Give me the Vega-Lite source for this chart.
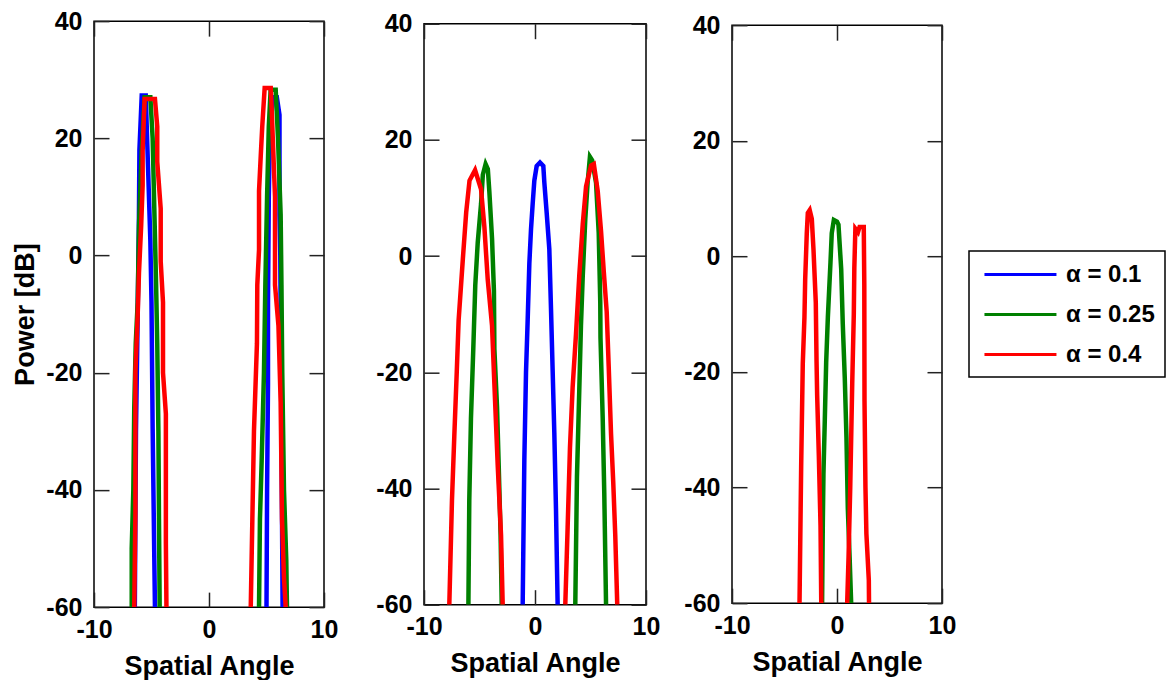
{
"$schema": "https://vega.github.io/schema/vega-lite/v6.json",
"padding": {"left": 11, "top": 8, "right": 0, "bottom": 0},
"data": {"values": [
{"p":1,"s":"α = 0.1","g":"1b1","i":0,"x":-6.45,"y":-60},{"p":1,"s":"α = 0.1","g":"1b1","i":1,"x":-6.35,"y":-30},{"p":1,"s":"α = 0.1","g":"1b1","i":2,"x":-6.2,"y":-10},{"p":1,"s":"α = 0.1","g":"1b1","i":3,"x":-6.1,"y":5},{"p":1,"s":"α = 0.1","g":"1b1","i":4,"x":-6.05,"y":18},{"p":1,"s":"α = 0.1","g":"1b1","i":5,"x":-5.85,"y":27.3},{"p":1,"s":"α = 0.1","g":"1b1","i":6,"x":-5.5,"y":27.3},{"p":1,"s":"α = 0.1","g":"1b1","i":7,"x":-5.3,"y":15},{"p":1,"s":"α = 0.1","g":"1b1","i":8,"x":-5.1,"y":2.5},{"p":1,"s":"α = 0.1","g":"1b1","i":9,"x":-5.0,"y":-8},{"p":1,"s":"α = 0.1","g":"1b1","i":10,"x":-4.9,"y":-29.5},{"p":1,"s":"α = 0.1","g":"1b1","i":11,"x":-4.75,"y":-52.7},{"p":1,"s":"α = 0.1","g":"1b1","i":12,"x":-4.7,"y":-60},
{"p":1,"s":"α = 0.1","g":"1b2","i":0,"x":5.0,"y":-60},{"p":1,"s":"α = 0.1","g":"1b2","i":1,"x":5.05,"y":-40},{"p":1,"s":"α = 0.1","g":"1b2","i":2,"x":5.13,"y":-22},{"p":1,"s":"α = 0.1","g":"1b2","i":3,"x":5.13,"y":-8},{"p":1,"s":"α = 0.1","g":"1b2","i":4,"x":5.2,"y":10},{"p":1,"s":"α = 0.1","g":"1b2","i":5,"x":5.3,"y":22},{"p":1,"s":"α = 0.1","g":"1b2","i":6,"x":5.6,"y":27},{"p":1,"s":"α = 0.1","g":"1b2","i":7,"x":5.9,"y":27},{"p":1,"s":"α = 0.1","g":"1b2","i":8,"x":6.13,"y":24},{"p":1,"s":"α = 0.1","g":"1b2","i":9,"x":6.13,"y":7},{"p":1,"s":"α = 0.1","g":"1b2","i":10,"x":6.2,"y":0},{"p":1,"s":"α = 0.1","g":"1b2","i":11,"x":6.3,"y":-30},{"p":1,"s":"α = 0.1","g":"1b2","i":12,"x":6.4,"y":-60},
{"p":2,"s":"α = 0.1","g":"2b","i":0,"x":-1.11,"y":-60},{"p":2,"s":"α = 0.1","g":"2b","i":1,"x":-0.96,"y":-35},{"p":2,"s":"α = 0.1","g":"2b","i":2,"x":-0.81,"y":-20},{"p":2,"s":"α = 0.1","g":"2b","i":3,"x":-0.66,"y":-11},{"p":2,"s":"α = 0.1","g":"2b","i":4,"x":-0.51,"y":-1.3},{"p":2,"s":"α = 0.1","g":"2b","i":5,"x":-0.36,"y":4.6},{"p":2,"s":"α = 0.1","g":"2b","i":6,"x":-0.21,"y":9},{"p":2,"s":"α = 0.1","g":"2b","i":7,"x":-0.06,"y":13},{"p":2,"s":"α = 0.1","g":"2b","i":8,"x":0.15,"y":15.5},{"p":2,"s":"α = 0.1","g":"2b","i":9,"x":0.45,"y":16.1},{"p":2,"s":"α = 0.1","g":"2b","i":10,"x":0.75,"y":15.5},{"p":2,"s":"α = 0.1","g":"2b","i":11,"x":0.84,"y":12.7},{"p":2,"s":"α = 0.1","g":"2b","i":12,"x":1.05,"y":7.5},{"p":2,"s":"α = 0.1","g":"2b","i":13,"x":1.29,"y":1.2},{"p":2,"s":"α = 0.1","g":"2b","i":14,"x":1.44,"y":-9},{"p":2,"s":"α = 0.1","g":"2b","i":15,"x":1.59,"y":-19.7},{"p":2,"s":"α = 0.1","g":"2b","i":16,"x":1.74,"y":-30.4},{"p":2,"s":"α = 0.1","g":"2b","i":17,"x":1.89,"y":-43.5},{"p":2,"s":"α = 0.1","g":"2b","i":18,"x":2.04,"y":-60},
{"p":1,"s":"α = 0.25","g":"1g1","i":0,"x":-6.72,"y":-60},{"p":1,"s":"α = 0.25","g":"1g1","i":1,"x":-6.72,"y":-50},{"p":1,"s":"α = 0.25","g":"1g1","i":2,"x":-6.58,"y":-40},{"p":1,"s":"α = 0.25","g":"1g1","i":3,"x":-6.5,"y":-26},{"p":1,"s":"α = 0.25","g":"1g1","i":4,"x":-6.37,"y":-15},{"p":1,"s":"α = 0.25","g":"1g1","i":5,"x":-6.2,"y":-8},{"p":1,"s":"α = 0.25","g":"1g1","i":6,"x":-6.09,"y":5},{"p":1,"s":"α = 0.25","g":"1g1","i":7,"x":-5.85,"y":18},{"p":1,"s":"α = 0.25","g":"1g1","i":8,"x":-5.6,"y":27},{"p":1,"s":"α = 0.25","g":"1g1","i":9,"x":-5.1,"y":27},{"p":1,"s":"α = 0.25","g":"1g1","i":10,"x":-4.9,"y":20},{"p":1,"s":"α = 0.25","g":"1g1","i":11,"x":-4.78,"y":10},{"p":1,"s":"α = 0.25","g":"1g1","i":12,"x":-4.6,"y":-5},{"p":1,"s":"α = 0.25","g":"1g1","i":13,"x":-4.5,"y":-15},{"p":1,"s":"α = 0.25","g":"1g1","i":14,"x":-4.4,"y":-30},{"p":1,"s":"α = 0.25","g":"1g1","i":15,"x":-4.35,"y":-45},{"p":1,"s":"α = 0.25","g":"1g1","i":16,"x":-4.29,"y":-60},
{"p":1,"s":"α = 0.25","g":"1g2","i":0,"x":4.35,"y":-60},{"p":1,"s":"α = 0.25","g":"1g2","i":1,"x":4.43,"y":-45},{"p":1,"s":"α = 0.25","g":"1g2","i":2,"x":4.58,"y":-35},{"p":1,"s":"α = 0.25","g":"1g2","i":3,"x":4.78,"y":-20},{"p":1,"s":"α = 0.25","g":"1g2","i":4,"x":4.9,"y":-5},{"p":1,"s":"α = 0.25","g":"1g2","i":5,"x":5.05,"y":10},{"p":1,"s":"α = 0.25","g":"1g2","i":6,"x":5.2,"y":22},{"p":1,"s":"α = 0.25","g":"1g2","i":7,"x":5.36,"y":28.3},{"p":1,"s":"α = 0.25","g":"1g2","i":8,"x":5.8,"y":28.3},{"p":1,"s":"α = 0.25","g":"1g2","i":9,"x":6.0,"y":20},{"p":1,"s":"α = 0.25","g":"1g2","i":10,"x":6.23,"y":7},{"p":1,"s":"α = 0.25","g":"1g2","i":11,"x":6.3,"y":-5},{"p":1,"s":"α = 0.25","g":"1g2","i":12,"x":6.37,"y":-20},{"p":1,"s":"α = 0.25","g":"1g2","i":13,"x":6.52,"y":-40},{"p":1,"s":"α = 0.25","g":"1g2","i":14,"x":6.72,"y":-52},{"p":1,"s":"α = 0.25","g":"1g2","i":15,"x":6.78,"y":-60},
{"p":2,"s":"α = 0.25","g":"2g1","i":0,"x":-6.0,"y":-60},{"p":2,"s":"α = 0.25","g":"2g1","i":1,"x":-5.92,"y":-42},{"p":2,"s":"α = 0.25","g":"2g1","i":2,"x":-5.77,"y":-28},{"p":2,"s":"α = 0.25","g":"2g1","i":3,"x":-5.56,"y":-16},{"p":2,"s":"α = 0.25","g":"2g1","i":4,"x":-5.38,"y":-5},{"p":2,"s":"α = 0.25","g":"2g1","i":5,"x":-5.16,"y":2.3},{"p":2,"s":"α = 0.25","g":"2g1","i":6,"x":-4.86,"y":9},{"p":2,"s":"α = 0.25","g":"2g1","i":7,"x":-4.7,"y":14},{"p":2,"s":"α = 0.25","g":"2g1","i":8,"x":-4.45,"y":15.85},{"p":2,"s":"α = 0.25","g":"2g1","i":9,"x":-4.25,"y":15},{"p":2,"s":"α = 0.25","g":"2g1","i":10,"x":-4.11,"y":11},{"p":2,"s":"α = 0.25","g":"2g1","i":11,"x":-3.87,"y":3},{"p":2,"s":"α = 0.25","g":"2g1","i":12,"x":-3.7,"y":-6},{"p":2,"s":"α = 0.25","g":"2g1","i":13,"x":-3.66,"y":-16},{"p":2,"s":"α = 0.25","g":"2g1","i":14,"x":-3.42,"y":-26},{"p":2,"s":"α = 0.25","g":"2g1","i":15,"x":-3.27,"y":-36},{"p":2,"s":"α = 0.25","g":"2g1","i":16,"x":-3.1,"y":-48},{"p":2,"s":"α = 0.25","g":"2g1","i":17,"x":-3.0,"y":-60},
{"p":2,"s":"α = 0.25","g":"2g2","i":0,"x":3.63,"y":-60},{"p":2,"s":"α = 0.25","g":"2g2","i":1,"x":3.78,"y":-38},{"p":2,"s":"α = 0.25","g":"2g2","i":2,"x":3.99,"y":-23},{"p":2,"s":"α = 0.25","g":"2g2","i":3,"x":4.14,"y":-12},{"p":2,"s":"α = 0.25","g":"2g2","i":4,"x":4.3,"y":-3.5},{"p":2,"s":"α = 0.25","g":"2g2","i":5,"x":4.53,"y":6.3},{"p":2,"s":"α = 0.25","g":"2g2","i":6,"x":4.74,"y":12.6},{"p":2,"s":"α = 0.25","g":"2g2","i":7,"x":4.95,"y":17.1},{"p":2,"s":"α = 0.25","g":"2g2","i":8,"x":5.15,"y":16.5},{"p":2,"s":"α = 0.25","g":"2g2","i":9,"x":5.5,"y":12.6},{"p":2,"s":"α = 0.25","g":"2g2","i":10,"x":5.74,"y":4},{"p":2,"s":"α = 0.25","g":"2g2","i":11,"x":5.88,"y":-8},{"p":2,"s":"α = 0.25","g":"2g2","i":12,"x":5.9,"y":-14},{"p":2,"s":"α = 0.25","g":"2g2","i":13,"x":6.1,"y":-28},{"p":2,"s":"α = 0.25","g":"2g2","i":14,"x":6.24,"y":-40.7},{"p":2,"s":"α = 0.25","g":"2g2","i":15,"x":6.4,"y":-60},
{"p":3,"s":"α = 0.25","g":"3g","i":0,"x":-1.42,"y":-60},{"p":3,"s":"α = 0.25","g":"3g","i":1,"x":-1.35,"y":-46},{"p":3,"s":"α = 0.25","g":"3g","i":2,"x":-1.29,"y":-37.7},{"p":3,"s":"α = 0.25","g":"3g","i":3,"x":-1.16,"y":-28.2},{"p":3,"s":"α = 0.25","g":"3g","i":4,"x":-1.03,"y":-18.3},{"p":3,"s":"α = 0.25","g":"3g","i":5,"x":-0.87,"y":-10.5},{"p":3,"s":"α = 0.25","g":"3g","i":6,"x":-0.62,"y":-1},{"p":3,"s":"α = 0.25","g":"3g","i":7,"x":-0.5,"y":4},{"p":3,"s":"α = 0.25","g":"3g","i":8,"x":-0.3,"y":6.3},{"p":3,"s":"α = 0.25","g":"3g","i":9,"x":0.0,"y":6.0},{"p":3,"s":"α = 0.25","g":"3g","i":10,"x":0.14,"y":5.5},{"p":3,"s":"α = 0.25","g":"3g","i":11,"x":0.4,"y":-2.2},{"p":3,"s":"α = 0.25","g":"3g","i":12,"x":0.55,"y":-11.7},{"p":3,"s":"α = 0.25","g":"3g","i":13,"x":0.74,"y":-21},{"p":3,"s":"α = 0.25","g":"3g","i":14,"x":0.9,"y":-31.3},{"p":3,"s":"α = 0.25","g":"3g","i":15,"x":1.03,"y":-43.6},{"p":3,"s":"α = 0.25","g":"3g","i":16,"x":1.2,"y":-52},{"p":3,"s":"α = 0.25","g":"3g","i":17,"x":1.35,"y":-60},
{"p":1,"s":"α = 0.4","g":"1r1","i":0,"x":-6.5,"y":-60},{"p":1,"s":"α = 0.4","g":"1r1","i":1,"x":-6.4,"y":-44},{"p":1,"s":"α = 0.4","g":"1r1","i":2,"x":-6.4,"y":-20},{"p":1,"s":"α = 0.4","g":"1r1","i":3,"x":-6.2,"y":-10},{"p":1,"s":"α = 0.4","g":"1r1","i":4,"x":-6.09,"y":-3},{"p":1,"s":"α = 0.4","g":"1r1","i":5,"x":-5.9,"y":5},{"p":1,"s":"α = 0.4","g":"1r1","i":6,"x":-5.77,"y":12},{"p":1,"s":"α = 0.4","g":"1r1","i":7,"x":-5.77,"y":17.8},{"p":1,"s":"α = 0.4","g":"1r1","i":8,"x":-5.6,"y":26.7},{"p":1,"s":"α = 0.4","g":"1r1","i":9,"x":-4.7,"y":26.7},{"p":1,"s":"α = 0.4","g":"1r1","i":10,"x":-4.5,"y":22},{"p":1,"s":"α = 0.4","g":"1r1","i":11,"x":-4.5,"y":16},{"p":1,"s":"α = 0.4","g":"1r1","i":12,"x":-4.2,"y":8},{"p":1,"s":"α = 0.4","g":"1r1","i":13,"x":-4.2,"y":-1},{"p":1,"s":"α = 0.4","g":"1r1","i":14,"x":-4.0,"y":-8},{"p":1,"s":"α = 0.4","g":"1r1","i":15,"x":-4.0,"y":-20},{"p":1,"s":"α = 0.4","g":"1r1","i":16,"x":-3.75,"y":-27},{"p":1,"s":"α = 0.4","g":"1r1","i":17,"x":-3.75,"y":-49},{"p":1,"s":"α = 0.4","g":"1r1","i":18,"x":-3.7,"y":-60},
{"p":1,"s":"α = 0.4","g":"1r2","i":0,"x":3.63,"y":-60},{"p":1,"s":"α = 0.4","g":"1r2","i":1,"x":3.77,"y":-45},{"p":1,"s":"α = 0.4","g":"1r2","i":2,"x":3.91,"y":-30},{"p":1,"s":"α = 0.4","g":"1r2","i":3,"x":4.17,"y":-15},{"p":1,"s":"α = 0.4","g":"1r2","i":4,"x":4.2,"y":-5},{"p":1,"s":"α = 0.4","g":"1r2","i":5,"x":4.35,"y":1},{"p":1,"s":"α = 0.4","g":"1r2","i":6,"x":4.35,"y":11},{"p":1,"s":"α = 0.4","g":"1r2","i":7,"x":4.5,"y":17},{"p":1,"s":"α = 0.4","g":"1r2","i":8,"x":4.63,"y":22},{"p":1,"s":"α = 0.4","g":"1r2","i":9,"x":4.84,"y":28.6},{"p":1,"s":"α = 0.4","g":"1r2","i":10,"x":5.37,"y":28.6},{"p":1,"s":"α = 0.4","g":"1r2","i":11,"x":5.45,"y":25},{"p":1,"s":"α = 0.4","g":"1r2","i":12,"x":5.74,"y":10},{"p":1,"s":"α = 0.4","g":"1r2","i":13,"x":5.74,"y":-5},{"p":1,"s":"α = 0.4","g":"1r2","i":14,"x":6.04,"y":-12},{"p":1,"s":"α = 0.4","g":"1r2","i":15,"x":6.23,"y":-25},{"p":1,"s":"α = 0.4","g":"1r2","i":16,"x":6.35,"y":-45},{"p":1,"s":"α = 0.4","g":"1r2","i":17,"x":6.52,"y":-55},{"p":1,"s":"α = 0.4","g":"1r2","i":18,"x":6.67,"y":-60},
{"p":2,"s":"α = 0.4","g":"2r1","i":0,"x":-7.72,"y":-60},{"p":2,"s":"α = 0.4","g":"2r1","i":1,"x":-7.48,"y":-42},{"p":2,"s":"α = 0.4","g":"2r1","i":2,"x":-7.27,"y":-31},{"p":2,"s":"α = 0.4","g":"2r1","i":3,"x":-7.05,"y":-20},{"p":2,"s":"α = 0.4","g":"2r1","i":4,"x":-6.88,"y":-11},{"p":2,"s":"α = 0.4","g":"2r1","i":5,"x":-6.5,"y":-0.5},{"p":2,"s":"α = 0.4","g":"2r1","i":6,"x":-6.2,"y":7.5},{"p":2,"s":"α = 0.4","g":"2r1","i":7,"x":-5.9,"y":13},{"p":2,"s":"α = 0.4","g":"2r1","i":8,"x":-5.4,"y":14.8},{"p":2,"s":"α = 0.4","g":"2r1","i":9,"x":-4.86,"y":11.5},{"p":2,"s":"α = 0.4","g":"2r1","i":10,"x":-4.56,"y":5},{"p":2,"s":"α = 0.4","g":"2r1","i":11,"x":-4.26,"y":-4},{"p":2,"s":"α = 0.4","g":"2r1","i":12,"x":-3.87,"y":-12},{"p":2,"s":"α = 0.4","g":"2r1","i":13,"x":-3.66,"y":-22},{"p":2,"s":"α = 0.4","g":"2r1","i":14,"x":-3.36,"y":-36},{"p":2,"s":"α = 0.4","g":"2r1","i":15,"x":-3.06,"y":-48},{"p":2,"s":"α = 0.4","g":"2r1","i":16,"x":-2.91,"y":-60},
{"p":2,"s":"α = 0.4","g":"2r2","i":0,"x":2.73,"y":-60},{"p":2,"s":"α = 0.4","g":"2r2","i":1,"x":2.94,"y":-46.7},{"p":2,"s":"α = 0.4","g":"2r2","i":2,"x":3.15,"y":-33},{"p":2,"s":"α = 0.4","g":"2r2","i":3,"x":3.39,"y":-22.6},{"p":2,"s":"α = 0.4","g":"2r2","i":4,"x":3.69,"y":-13.5},{"p":2,"s":"α = 0.4","g":"2r2","i":5,"x":3.99,"y":-3.3},{"p":2,"s":"α = 0.4","g":"2r2","i":6,"x":4.3,"y":5.5},{"p":2,"s":"α = 0.4","g":"2r2","i":7,"x":4.6,"y":12},{"p":2,"s":"α = 0.4","g":"2r2","i":8,"x":5.05,"y":15.6},{"p":2,"s":"α = 0.4","g":"2r2","i":9,"x":5.3,"y":15.85},{"p":2,"s":"α = 0.4","g":"2r2","i":10,"x":5.65,"y":11.2},{"p":2,"s":"α = 0.4","g":"2r2","i":11,"x":5.95,"y":4.3},{"p":2,"s":"α = 0.4","g":"2r2","i":12,"x":6.19,"y":-2.5},{"p":2,"s":"α = 0.4","g":"2r2","i":13,"x":6.46,"y":-9.6},{"p":2,"s":"α = 0.4","g":"2r2","i":14,"x":6.64,"y":-19},{"p":2,"s":"α = 0.4","g":"2r2","i":15,"x":6.85,"y":-30.6},{"p":2,"s":"α = 0.4","g":"2r2","i":16,"x":7.05,"y":-39},{"p":2,"s":"α = 0.4","g":"2r2","i":17,"x":7.23,"y":-48},{"p":2,"s":"α = 0.4","g":"2r2","i":18,"x":7.41,"y":-60},
{"p":3,"s":"α = 0.4","g":"3r1","i":0,"x":-3.57,"y":-60},{"p":3,"s":"α = 0.4","g":"3r1","i":1,"x":-3.41,"y":-36},{"p":3,"s":"α = 0.4","g":"3r1","i":2,"x":-3.26,"y":-18.6},{"p":3,"s":"α = 0.4","g":"3r1","i":3,"x":-3.1,"y":-10.5},{"p":3,"s":"α = 0.4","g":"3r1","i":4,"x":-3.03,"y":-4},{"p":3,"s":"α = 0.4","g":"3r1","i":5,"x":-2.88,"y":3.9},{"p":3,"s":"α = 0.4","g":"3r1","i":6,"x":-2.78,"y":7.5},{"p":3,"s":"α = 0.4","g":"3r1","i":7,"x":-2.6,"y":8.0},{"p":3,"s":"α = 0.4","g":"3r1","i":8,"x":-2.4,"y":6.5},{"p":3,"s":"α = 0.4","g":"3r1","i":9,"x":-2.24,"y":1.2},{"p":3,"s":"α = 0.4","g":"3r1","i":10,"x":-2.02,"y":-8},{"p":3,"s":"α = 0.4","g":"3r1","i":11,"x":-1.95,"y":-18},{"p":3,"s":"α = 0.4","g":"3r1","i":12,"x":-1.89,"y":-24},{"p":3,"s":"α = 0.4","g":"3r1","i":13,"x":-1.73,"y":-34.5},{"p":3,"s":"α = 0.4","g":"3r1","i":14,"x":-1.57,"y":-46.6},{"p":3,"s":"α = 0.4","g":"3r1","i":15,"x":-1.5,"y":-60},
{"p":3,"s":"α = 0.4","g":"3r2","i":0,"x":0.97,"y":-60},{"p":3,"s":"α = 0.4","g":"3r2","i":1,"x":1.1,"y":-52},{"p":3,"s":"α = 0.4","g":"3r2","i":2,"x":1.26,"y":-40},{"p":3,"s":"α = 0.4","g":"3r2","i":3,"x":1.45,"y":-22},{"p":3,"s":"α = 0.4","g":"3r2","i":4,"x":1.6,"y":-10},{"p":3,"s":"α = 0.4","g":"3r2","i":5,"x":1.65,"y":-2},{"p":3,"s":"α = 0.4","g":"3r2","i":6,"x":1.75,"y":4.8},{"p":3,"s":"α = 0.4","g":"3r2","i":7,"x":2.0,"y":4.2},{"p":3,"s":"α = 0.4","g":"3r2","i":8,"x":2.15,"y":5.1},{"p":3,"s":"α = 0.4","g":"3r2","i":9,"x":2.55,"y":5.1},{"p":3,"s":"α = 0.4","g":"3r2","i":10,"x":2.6,"y":-5},{"p":3,"s":"α = 0.4","g":"3r2","i":11,"x":2.62,"y":-25},{"p":3,"s":"α = 0.4","g":"3r2","i":12,"x":2.71,"y":-40},{"p":3,"s":"α = 0.4","g":"3r2","i":13,"x":2.8,"y":-48},{"p":3,"s":"α = 0.4","g":"3r2","i":14,"x":3.03,"y":-56},{"p":3,"s":"α = 0.4","g":"3r2","i":15,"x":3.05,"y":-60}
]},
"config": {
  "font": "Liberation Sans",
  "view": {"stroke": "#000", "strokeWidth": 1.5},
  "axis": {"grid": false, "domain": false, "tickColor": "#222", "tickWidth": 1.5, "tickSize": -15,
    "labelFont": "Liberation Sans", "labelFontSize": 25, "labelFontWeight": "bold", "labelColor": "#000",
    "labelFlush": false, "labelOverlap": false, "labelBound": false, "labelExpr": "'' + datum.value",
    "titleFont": "Liberation Sans", "titleFontSize": 27, "titleFontWeight": "bold", "titleColor": "#000"},
  "axisX": {"labelPadding": 25, "titlePadding": 11},
  "axisY": {"labelPadding": 27, "titlePadding": 6},
  "legend": {"orient": "none", "legendX": 875, "legendY": 230, "strokeColor": "#000", "strokeWidth": 1.5,
    "padding": 10, "symbolType": "M-0.67,0H5.33", "symbolSize": 576, "symbolStrokeWidth": 3,
    "labelFont": "Liberation Sans", "labelFontSize": 24, "labelFontWeight": "bold", "labelColor": "#000",
    "labelOffset": 60, "rowPadding": 14}
},
"spacing": 36,
"center": true,
"hconcat": [
  {"width": 230, "height": 586,
   "transform": [{"filter": "datum.p == 1"}],
   "layer": [
     {"mark": {"type": "line", "clip": true, "strokeWidth": 4.5},
      "encoding": {
        "x": {"field": "x", "type": "quantitative", "scale": {"domain": [-10, 10], "nice": false, "zero": false}, "axis": {"orient": "bottom", "values": [-10, 0, 10], "title": "Spatial Angle"}},
        "y": {"field": "y", "type": "quantitative", "scale": {"domain": [-60, 40], "nice": false, "zero": false}, "axis": {"orient": "left", "values": [-60, -40, -20, 0, 20, 40], "title": "Power [dB]"}},
        "color": {"field": "s", "type": "nominal", "scale": {"domain": ["α = 0.1", "α = 0.25", "α = 0.4"], "range": ["#0000ff", "#008000", "#ff0000"]}, "legend": {"title": null}},
        "detail": {"field": "g"},
        "order": {"field": "i", "type": "quantitative"}
      }},
     {"mark": {"type": "point", "opacity": 0},
      "encoding": {
        "x": {"field": "x", "type": "quantitative", "axis": {"orient": "top", "values": [-10, 0, 10], "labels": false, "title": null}},
        "y": {"field": "y", "type": "quantitative", "axis": {"orient": "right", "values": [-60, -40, -20, 0, 20, 40], "labels": false, "title": null}}
      }}
   ],
   "resolve": {"axis": {"x": "independent", "y": "independent"}}
  },
  {"spacing": 22, "center": true,
   "hconcat": [
     {"width": 222, "height": 581,
      "transform": [{"filter": "datum.p == 2"}],
      "layer": [
        {"mark": {"type": "line", "clip": true, "strokeWidth": 4.5},
         "encoding": {
           "x": {"field": "x", "type": "quantitative", "scale": {"domain": [-10, 10], "nice": false, "zero": false}, "axis": {"orient": "bottom", "values": [-10, 0, 10], "title": "Spatial Angle"}},
           "y": {"field": "y", "type": "quantitative", "scale": {"domain": [-60, 40], "nice": false, "zero": false}, "axis": {"orient": "left", "values": [-60, -40, -20, 0, 20, 40], "title": null}},
           "color": {"field": "s", "type": "nominal", "scale": {"domain": ["α = 0.1", "α = 0.25", "α = 0.4"], "range": ["#0000ff", "#008000", "#ff0000"]}, "legend": {"title": null}},
           "detail": {"field": "g"},
           "order": {"field": "i", "type": "quantitative"}
         }},
        {"mark": {"type": "point", "opacity": 0},
         "encoding": {
           "x": {"field": "x", "type": "quantitative", "axis": {"orient": "top", "values": [-10, 0, 10], "labels": false, "title": null}},
           "y": {"field": "y", "type": "quantitative", "axis": {"orient": "right", "values": [-60, -40, -20, 0, 20, 40], "labels": false, "title": null}}
         }}
      ],
      "resolve": {"axis": {"x": "independent", "y": "independent"}}
     },
     {"width": 210, "height": 578,
      "transform": [{"filter": "datum.p == 3"}],
      "layer": [
        {"mark": {"type": "line", "clip": true, "strokeWidth": 4.5},
         "encoding": {
           "x": {"field": "x", "type": "quantitative", "scale": {"domain": [-10, 10], "nice": false, "zero": false}, "axis": {"orient": "bottom", "values": [-10, 0, 10], "title": "Spatial Angle"}},
           "y": {"field": "y", "type": "quantitative", "scale": {"domain": [-60, 40], "nice": false, "zero": false}, "axis": {"orient": "left", "values": [-60, -40, -20, 0, 20, 40], "title": null}},
           "color": {"field": "s", "type": "nominal", "scale": {"domain": ["α = 0.1", "α = 0.25", "α = 0.4"], "range": ["#0000ff", "#008000", "#ff0000"]}, "legend": {"title": null}},
           "detail": {"field": "g"},
           "order": {"field": "i", "type": "quantitative"}
         }},
        {"mark": {"type": "point", "opacity": 0},
         "encoding": {
           "x": {"field": "x", "type": "quantitative", "axis": {"orient": "top", "values": [-10, 0, 10], "labels": false, "title": null}},
           "y": {"field": "y", "type": "quantitative", "axis": {"orient": "right", "values": [-60, -40, -20, 0, 20, 40], "labels": false, "title": null}}
         }}
      ],
      "resolve": {"axis": {"x": "independent", "y": "independent"}}
     }
   ]
  }
]
}
